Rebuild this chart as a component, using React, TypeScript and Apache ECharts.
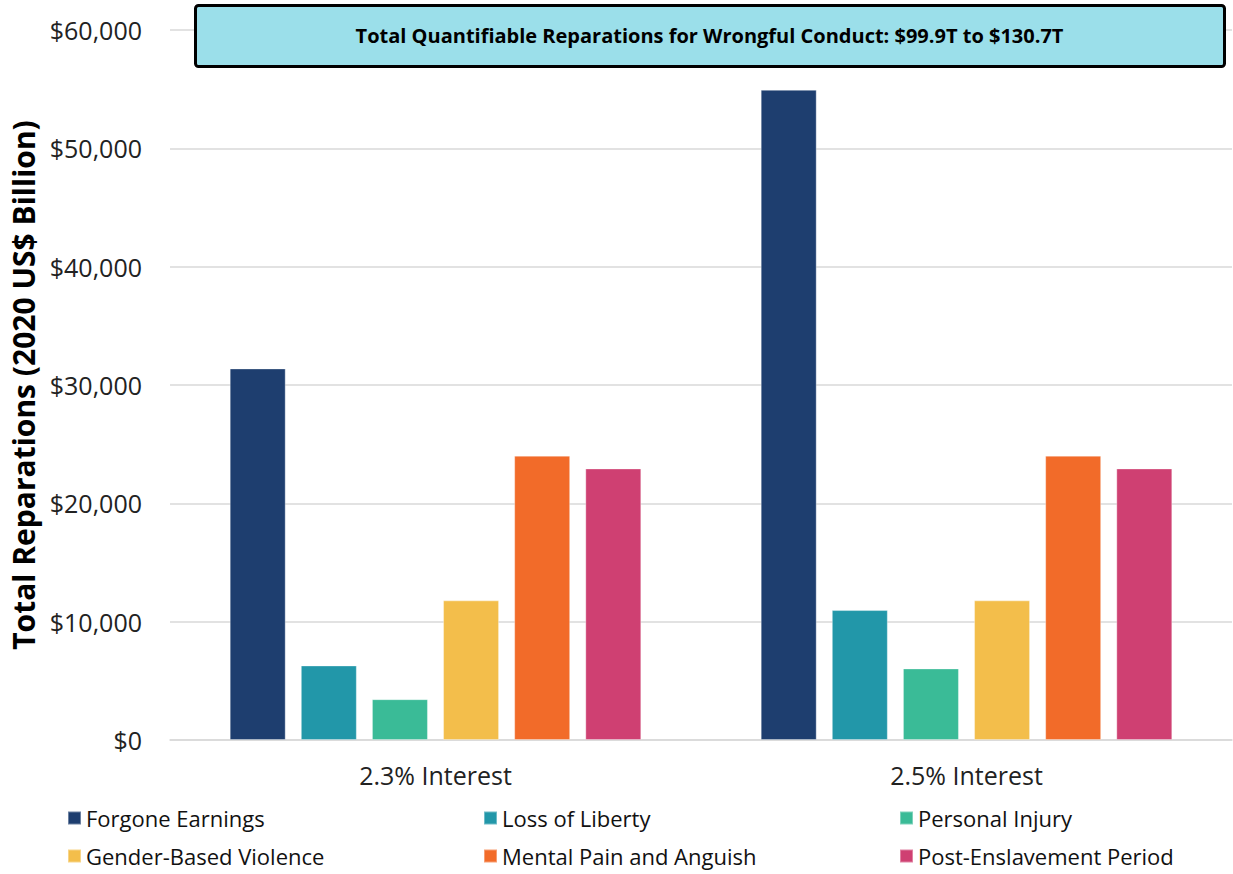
import React, { useEffect, useRef } from "react";
import * as echarts from "echarts";

const categories = ["2.3% Interest", "2.5% Interest"];
const seriesNames = [
  "Forgone Earnings",
  "Loss of Liberty",
  "Personal Injury",
  "Gender-Based Violence",
  "Mental Pain and Anguish",
  "Post-Enslavement Period",
];
const forgoneEarnings = [31400, 54950];
const lossOfLiberty = [6300, 10980];
const personalInjury = [3450, 6050];
const genderBasedViolence = [11800, 11800];
const mentalPain = [24030, 24030];
const postEnslavement = [22950, 22950];
const seriesValues = [
  forgoneEarnings,
  lossOfLiberty,
  personalInjury,
  genderBasedViolence,
  mentalPain,
  postEnslavement,
];
const colors = ["#1E3E6F", "#2297A9", "#3ABB97", "#F3BE4B", "#F26B29", "#CF4072"];
const yTicks = { min: 0, max: 60000, interval: 10000 };
const titleText = "Total Quantifiable Reparations for Wrongful Conduct: $99.9T to $130.7T";
const yAxisName = "Total Reparations (2020 US$ Billion)";

export default function App() {
  const ref = useRef<HTMLDivElement>(null);
  useEffect(() => {
    if (!ref.current) return;
    const chart = echarts.init(ref.current, null, { renderer: "svg" });
    const font = "'Open Sans', sans-serif";
    const legendCol = (names: string[], left: number) => ({
      show: true,
      orient: "vertical",
      left,
      top: 806,
      height: 68,
      padding: 0,
      data: names,
      icon: "rect",
      itemWidth: 13,
      itemHeight: 13,
      itemGap: 14,
      selectedMode: false,
      textStyle: { fontFamily: font, fontSize: 22, color: "#111", lineHeight: 24 },
    });
    chart.setOption({
      animation: false,
      backgroundColor: "#fff",
      color: colors,
      grid: { left: 170, right: 1, top: 30, bottom: 134, containLabel: false },
      legend: [
        legendCol([seriesNames[0], seriesNames[3]], 67),
        legendCol([seriesNames[1], seriesNames[4]], 483),
        legendCol([seriesNames[2], seriesNames[5]], 899),
      ],
      xAxis: {
        type: "category",
        data: categories,
        axisLine: { lineStyle: { color: "#d9d9d9", width: 1.5 } },
        axisTick: { show: false },
        axisLabel: { fontFamily: font, fontSize: 25, color: "#222", margin: 22 },
      },
      yAxis: {
        type: "value",
        min: yTicks.min,
        max: yTicks.max,
        interval: yTicks.interval,
        name: yAxisName,
        nameLocation: "middle",
        nameGap: 124,
        nameTextStyle: { fontFamily: font, fontSize: 30, fontWeight: "bold", color: "#000" },
        axisLine: { show: false },
        axisTick: { show: false },
        splitLine: { lineStyle: { color: "#d9d9d9", width: 1.5 } },
        axisLabel: {
          fontFamily: font,
          fontSize: 25,
          color: "#222",
          margin: 28,
          formatter: (v: number) => "$" + v.toLocaleString("en-US"),
        },
      },
      series: seriesNames.map((name, i) => ({
        name,
        type: "bar",
        data: seriesValues[i],
        barWidth: 56,
        barGap: "27%",
        itemStyle: { color: colors[i], borderColor: "rgba(255,255,255,0.35)", borderWidth: 1 },
      })),
      graphic: [
        {
          type: "group",
          left: 194,
          top: 4,
          z: 100,
          children: [
            {
              type: "rect",
              z: 100,
              shape: { x: 0, y: 0, width: 1029, height: 61, r: 3 },
              style: { fill: "#9BDFEA", stroke: "#000", lineWidth: 3 },
            },
            {
              type: "text",
              z: 101,
              x: 514,
              y: 30,
              style: {
                text: titleText,
                fontFamily: font,
                fontSize: 20,
                fontWeight: "bold",
                fill: "#000",
                align: "center",
                verticalAlign: "middle",
              },
            },
          ],
        },
      ],
    });
    return () => chart.dispose();
  }, []);
  return (
    <div
      ref={ref}
      style={{ position: "fixed", left: 0, top: 0, width: 1233, height: 874 }}
    />
  );
}
